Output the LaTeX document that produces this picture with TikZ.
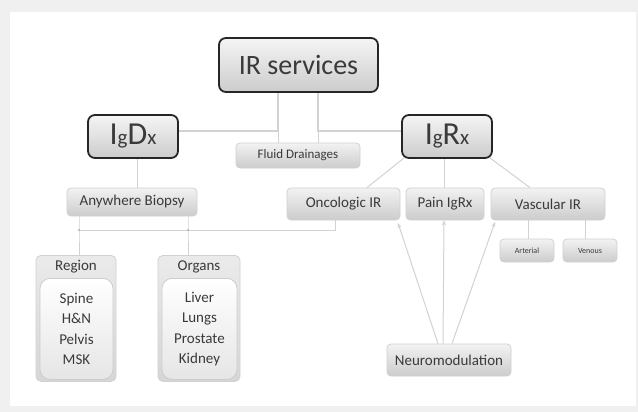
\documentclass[tikz,border=0pt]{standalone}
\usepackage{fontspec}
\setmainfont{Carlito}
\usetikzlibrary{arrows.meta}
\definecolor{txt}{HTML}{3A3A3A}
\definecolor{lnc}{HTML}{D2D2D2}
\definecolor{frame}{HTML}{F0F0F0}
\pgfdeclarelayer{background}
\pgfsetlayers{background,main}
\tikzset{
  bigbox/.style={draw=black!85, line width=1.8pt, rounded corners=7pt,
    top color=white!96!black, bottom color=white!80!black, text=txt, inner sep=0pt},
  smallbox/.style={draw=white!82!black, line width=0.8pt, rounded corners=4pt,
    top color=white!95!black, bottom color=white!80!black, text=txt, inner sep=0pt,
    font=\fontsize{15}{17}\selectfont},
  tinybox/.style={smallbox, font=\fontsize{8}{9}\selectfont},
  cardhead/.style={draw=white!82!black, line width=0.8pt, rounded corners=5pt,
    top color=white!92!black, bottom color=white!84!black, text=txt, inner sep=0pt,
    font=\fontsize{15}{17}\selectfont},
  cardbody/.style={draw=white!80!black, line width=0.8pt, rounded corners=10pt,
    top color=white, bottom color=white!90!black, text=txt, inner sep=0pt, align=center,
    font=\fontsize{15}{20.5}\selectfont},
  conn/.style={draw=lnc, line width=1.5pt},
  thinconn/.style={draw=lnc, line width=1pt},
  arr/.style={draw=lnc, line width=1pt, -{Stealth[length=5pt,width=4pt]}},
}
\newcommand\bigIg[2]{{\fontsize{32}{34}\selectfont I{\fontsize{21}{21}\selectfont g}#1{\fontsize{21}{21}\selectfont #2}}}
\begin{document}
\begin{tikzpicture}[x=1pt,y=-1pt]
\useasboundingbox (0,0) rectangle (638,412);

\node[bigbox, minimum width=159, minimum height=54] (ir) at (298.5,65) {\fontsize{28}{30}\selectfont IR services};
\node[bigbox, minimum width=90, minimum height=43] (igdx) at (133,136.5) {\bigIg{D}{x}};
\node[bigbox, minimum width=90, minimum height=43] (igrx) at (447,136.5) {\bigIg{R}{x}};

\node[smallbox, minimum width=124, minimum height=25, font=\fontsize{13}{15}\selectfont] (fluid) at (298,155.5) {Fluid Drainages};
\node[smallbox, minimum width=130, minimum height=28] (ab) at (132,202) {Anywhere Biopsy};
\node[smallbox, minimum width=113, minimum height=32] (onc) at (343.5,204) {Oncologic IR};
\node[smallbox, minimum width=78, minimum height=32] (pain) at (445,204) {Pain IgRx};
\node[smallbox, minimum width=114, minimum height=32] (vasc) at (548,204) {Vascular IR};
\node[tinybox, minimum width=54, minimum height=23] (art) at (527,250.5) {Arterial};
\node[tinybox, minimum width=54, minimum height=23] (ven) at (590,250.5) {Venous};
\node[smallbox, minimum width=124, minimum height=32] (neuro) at (449,360) {Neuromodulation};

% Region card
\node[cardhead, minimum width=80, minimum height=126, anchor=north] (regc) at (76,255) {};
\node[cardbody, minimum width=73, minimum height=101, anchor=north] (regb) at (76.5,278) {Spine\\H\&N\\Pelvis\\MSK};
\node[text=txt, font=\fontsize{15}{17}\selectfont] (regh) at (76,266.5) {Region};
% Organs card
\node[cardhead, minimum width=82, minimum height=126, anchor=north] (orgc) at (199,255) {};
\node[cardbody, minimum width=75, minimum height=101, anchor=north] (orgb) at (199.5,278) {Liver\\Lungs\\Prostate\\Kidney};
\node[text=txt, font=\fontsize{15}{17}\selectfont] (orgh) at (199,266.5) {Organs};

\begin{pgfonlayer}{background}
  \fill[frame] (0,0) rectangle (638,412);
  \fill[white] (10,12) rectangle (636,406);
  % IR services to IgDx / IgRx
  \coordinate (j1) at (278,131);
  \coordinate (j2) at (318,131);
  \draw[conn] (ir.south -| j1) -- (j1) -- (igdx.east |- j1);
  \draw[conn] (ir.south -| j2) -- (j2) -- (igrx.west |- j2);
  \draw[thinconn] (j1) -- (j1 |- fluid.north);
  \draw[thinconn] (j2) -- (j2 |- fluid.north);
  % IgDx to Anywhere Biopsy
  \draw[thinconn] (igdx.south -| 137,0) -- (ab.north -| 137,0);
  % Anywhere Biopsy to Region / Organs, and to Oncologic IR
  \coordinate (b1) at (79,230);
  \coordinate (b2) at (188,230);
  \coordinate (b3) at (335,230);
  \draw[thinconn] (ab.south -| b1) -- (b1) -- (b1 |- regc.north);
  \draw[thinconn] (ab.south -| b2) -- (b2) -- (b2 |- orgc.north);
  \draw[thinconn] (b1) -- (b3) -- (b3 |- onc.south);
  \fill[white!70!black] (b1) circle (1.2pt) (b2) circle (1.2pt);
  % IgRx to children
  \draw[thinconn] (igrx.south west) ++(3,-1) -- (onc.north -| 367,0);
  \draw[thinconn] (igrx.south -| 444,0) -- (pain.north -| 444,0);
  \draw[thinconn] (igrx.south east) ++(-3,-1) -- (vasc.north -| 530,0);
  % Vascular IR to Arterial / Venous
  \draw[thinconn] (vasc.south -| 528,0) -- (art.north -| 528,0);
  \draw[thinconn] (vasc.south -| 585,0) -- (ven.north -| 585,0);
\end{pgfonlayer}
% Neuromodulation arrows
\draw[arr] (neuro.north -| 438,0) -- (398,223);
\draw[arr] (neuro.north -| 443,0) -- (pain.south -| 444,0);
\draw[arr] (neuro.north -| 452,0) -- (495,222);
\end{tikzpicture}
\end{document}
